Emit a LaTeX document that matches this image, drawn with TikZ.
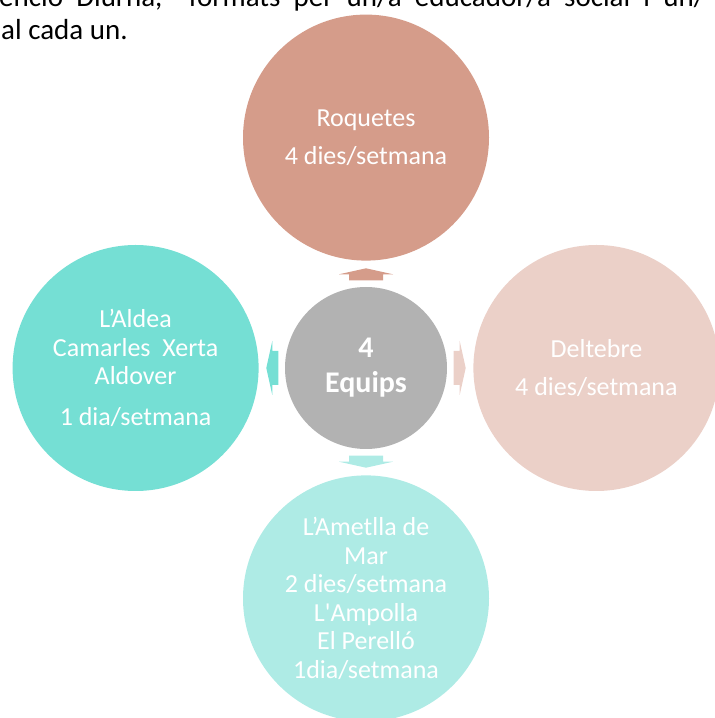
\documentclass[tikz,border=0pt]{standalone}
\usepackage{fontspec}
\setmainfont{Carlito}
\usetikzlibrary{positioning}

\definecolor{roqcol}{HTML}{D59C8A}
\definecolor{hubcol}{HTML}{B2B2B2}
\definecolor{aldcol}{HTML}{75DFD4}
\definecolor{delcol}{HTML}{EBD0C8}
\definecolor{ampcol}{HTML}{AEEBE5}

\begin{document}
\begin{tikzpicture}[
    x=1pt, y=1pt,
    bodytext/.style={anchor=base west, inner sep=0pt, font=\fontsize{29}{32}\selectfont},
    town/.style={circle, inner sep=0pt, minimum size=246pt, text=white, align=center,
        font=\fontsize{26}{28.5}\selectfont},
    hub/.style={circle, inner sep=0pt, minimum size=162pt, fill=hubcol, text=white, align=center,
        font=\fontsize{30}{35}\selectfont\bfseries},
    pics/blockarrow/.style={code={
        \fill (-17,0) -- (-17,6) -- (-27,6) -- (0,12) -- (27,6) -- (17,6) -- (17,0) -- cycle;
    }},
  ]
  \useasboundingbox (0,0) rectangle (715,718);
  \clip (0,0) rectangle (715,718);

  % page text above the figure
  \node[bodytext] (line1) at (-1,711) {\makebox[706pt][s]{enció Diürna,\ \ formats per un/a educador/a social i un/}};
  \node[bodytext] (line2) at (1,678) {al cada un.};

  % circles
  \node[hub] (equips) at (366,350) {4\\Equips};
  \node[town, fill=roqcol, above=26pt of equips] (roquetes) {Roquetes\\[9.5pt]4 dies/setmana};
  \node[town, fill=delcol, right=26pt of equips] (deltebre) {Deltebre\\[9.5pt]4 dies/setmana};
  \node[town, fill=aldcol, left=26pt of equips] (aldea) {L’Aldea\\Camarles\ \ Xerta\\Aldover\\[12.5pt]1 dia/setmana};
  \node[town, fill=ampcol, below=26pt of equips] (ametlla) {L’Ametlla de\\Mar\\2 dies/setmana\\L\textquotesingle Ampolla\\El Perelló\\1dia/setmana};

  % arrows
  \pic[fill=roqcol] at ([yshift=6.5pt]equips.north) {blockarrow};
  \pic[fill=ampcol, rotate=180] at ([yshift=-6.5pt]equips.south) {blockarrow};
  \pic[fill=aldcol, rotate=90] at ([xshift=-6.5pt]equips.west) {blockarrow};
  \pic[fill=delcol, rotate=-90] at ([xshift=6.5pt]equips.east) {blockarrow};
\end{tikzpicture}
\end{document}
